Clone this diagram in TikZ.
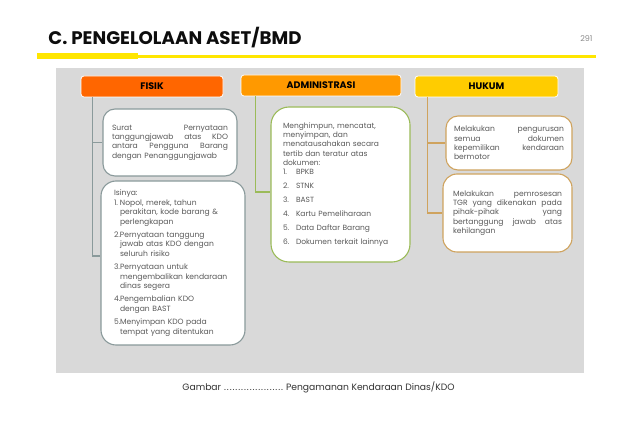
\documentclass[tikz,border=0pt]{standalone}
\usepackage{fontspec}
\setmainfont{Poppins}
\definecolor{bgGray}{HTML}{D9D9D9}
\definecolor{fisikO}{HTML}{FF6600}
\definecolor{adminO}{HTML}{FF9900}
\definecolor{hukumY}{HTML}{FFCC00}
\definecolor{fisikL}{HTML}{8A9A9B}
\definecolor{adminL}{HTML}{9BBB59}
\definecolor{hukumL}{HTML}{CFA35E}
\definecolor{txt}{HTML}{595959}
\definecolor{titleY}{HTML}{FFE600}
\newcommand{\jl}[2]{\leavevmode\hbox to #1{#2}}
\newcommand{\ind}{\hspace*{6pt}}
\newcommand{\itm}[1]{\makebox[6pt][l]{#1}}
\newcommand{\aitm}[1]{\makebox[13pt][l]{#1}}
\newcommand{\dotrow}{\hbox to 60pt{\xleaders\hbox to 2.85pt{\hss.\hss}\hfill}}
\begin{document}
\begin{tikzpicture}[x=1pt,y=-1pt,
  head/.style={rounded corners=3pt, draw=white, line width=0.8pt, minimum height=21pt,
    font=\bfseries\fontsize{9.5}{11}\selectfont, text=black, inner sep=0pt},
  card/.style={rounded corners=12pt, fill=white, line width=1.1pt, text=txt,
    font=\fontsize{7.6}{9.3}\selectfont, inner sep=0pt},
  link/.style={line width=1.1pt}]
\useasboundingbox (0,0) rectangle (640,443);
\fill[white] (0,0) rectangle (640,443);
% title
\node[anchor=base west, inner sep=0pt, text=black!95] (title) at (48.3,44.3)
  {\resizebox{253pt}{!}{\bfseries\fontsize{16}{18}\selectfont C. PENGELOLAAN ASET/BMD}};
\node[anchor=base east, inner sep=0pt, text=black!45] (pnum) at (592.7,41.7)
  {\fontsize{8}{9}\selectfont 291};
\fill[titleY] (37.3,53.5) rectangle (138.3,58.8);
\fill[titleY] (138.3,55.3) rectangle (596,58.3);
% panel
\fill[bgGray] (56,67.7) rectangle (584,373.3);
% headers
\node[head, fill=fisikO, minimum width=142pt] (fh) at (152,86.5) {FISIK};
\node[head, fill=adminO, minimum width=160pt] (ah) at (321,85.5) {ADMINISTRASI};
\node[head, fill=hukumY, minimum width=143pt] (hh) at (486.5,86.5) {HUKUM};
% fisik cards
\node[card, draw=fisikL, minimum width=134pt, minimum height=67pt, text width=116pt, align=left] (f1) at (170,142.5)
 {\jl{116pt}{Surat\hfill Pernyataan}\\
  \jl{116pt}{tanggungjawab\hfill atas\hfill KDO}\\
  \jl{116pt}{antara\hfill Pengguna\hfill Barang}\\
  dengan Penanggungjawab};
\node[card, draw=fisikL, rounded corners=15pt, minimum width=144pt, minimum height=164pt, text width=118pt, align=left,
  font=\fontsize{7.6}{9.6}\selectfont] (f2) at (173,263)
 {Isinya:\\
  \itm{1.}Nopol, merek, tahun\\
  \ind perakitan, kode barang \&\\
  \ind perlengkapan\\[3.5pt]
  \itm{2.}Pernyataan tanggung\\
  \ind jawab atas KDO dengan\\
  \ind seluruh risiko\\[3.5pt]
  \itm{3.}Pernyataan untuk\\
  \ind mengembalikan kendaraan\\
  \ind dinas segera\\[3.5pt]
  \itm{4.}Pengembalian KDO\\
  \ind dengan BAST\\[3.5pt]
  \itm{5.}Menyimpan KDO pada\\
  \ind tempat yang ditentukan};
\draw[link, draw=fisikL] ([xshift=12pt]fh.south west) |- ([yshift=7pt]f2.west);
\draw[link, draw=fisikL] ([xshift=12pt]fh.south west) |- (f1.west);
% admin
\node[card, draw=adminL, rounded corners=18pt, minimum width=139pt, minimum height=155pt, text width=115pt, align=left,
  font=\fontsize{7.5}{9.3}\selectfont] (a1) at (340.5,184.5)
 {Menghimpun, mencatat,\\
  menyimpan, dan\\
  menatausahakan secara\\
  tertib dan teratur atas\\
  dokumen:\\
  \aitm{1.}BPKB\\[4.6pt]
  \aitm{2.}STNK\\[4.6pt]
  \aitm{3.}BAST\\[4.6pt]
  \aitm{4.}Kartu Pemeliharaan\\[4.6pt]
  \aitm{5.}Data Daftar Barang\\[4.6pt]
  \aitm{6.}Dokumen terkait lainnya};
\draw[link, draw=adminL] ([xshift=15pt]ah.south west) |- ([yshift=-7.5pt]a1.west);
% hukum
\node[card, draw=hukumL, minimum width=126pt, minimum height=54pt, text width=110pt, align=left] (h1) at (509,143)
 {\jl{110pt}{Melakukan\hfill pengurusan}\\
  \jl{110pt}{semua\hfill dokumen}\\
  \jl{110pt}{kepemilikan\hfill kendaraan}\\
  bermotor};
\node[card, draw=hukumL, rounded corners=14pt, minimum width=129pt, minimum height=78pt, text width=109pt, align=left] (h2) at (507.5,213)
 {\jl{109pt}{Melakukan\hfill pemrosesan}\\
  \jl{109pt}{TGR\hfill yang\hfill dikenakan\hfill pada}\\
  \jl{109pt}{pihak-pihak\hfill yang}\\
  \jl{109pt}{bertanggung\hfill jawab\hfill atas}\\
  kehilangan};
\draw[link, draw=hukumL] ([xshift=13pt]hh.south west) |- (h1.west);
\draw[link, draw=hukumL] ([xshift=13pt]hh.south west) |- (h2.west);
% caption
\node[anchor=base, inner sep=0pt, text=black!80] (cap) at (318.5,391)
 {\fontsize{9.2}{11}\selectfont Gambar \dotrow{} Pengamanan Kendaraan Dinas/KDO};
\end{tikzpicture}
\end{document}
